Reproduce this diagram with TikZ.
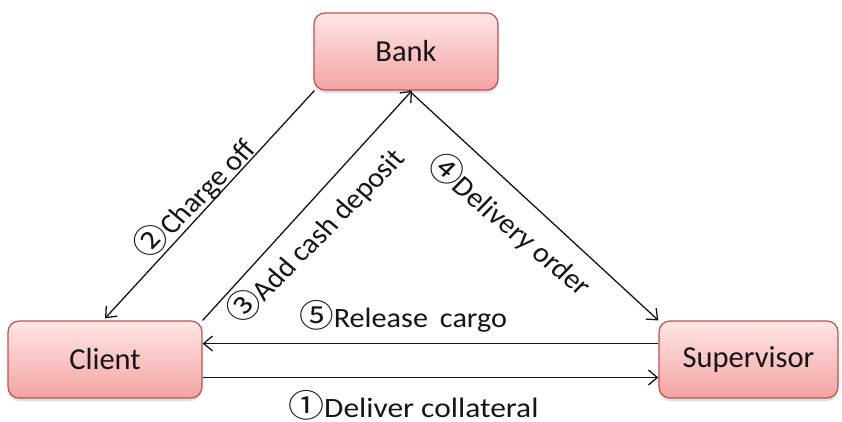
\documentclass[tikz,border=0pt]{standalone}
\usepackage{fontspec}
\setmainfont{Carlito}
\newfontfamily\cjkfont{Noto Sans CJK JP}
\usetikzlibrary{shadows,arrows.meta}
\definecolor{boxedge}{HTML}{C0504D}
\definecolor{boxtop}{HTML}{FFE6E6}
\definecolor{boxbot}{HTML}{F3A3A3}
\definecolor{ink}{HTML}{151515}
\tikzset{
  party/.style={draw=boxedge, line width=1.2pt, rounded corners=11pt,
    top color=boxtop, bottom color=boxbot, text=ink,
    font=\fontsize{30.5}{36}\selectfont,
    drop shadow={opacity=0.25, shadow xshift=0pt, shadow yshift=-3pt},
    inner sep=0pt},
  flow/.style={draw=ink, line width=1.3pt, -{Straight Barb[length=9pt,width=15pt,line width=1.3pt]}},
  lbl/.style={text=ink, font=\fontsize{28}{32}\selectfont, inner sep=0pt, xscale=1.08},
}
\newcommand{\cnum}[1]{{\cjkfont\fontsize{32}{32}\selectfont #1}}
\begin{document}
\begin{tikzpicture}[x=1pt,y=-1pt]
\useasboundingbox (0,0) rectangle (842,421);
\node[party, minimum width=184pt, minimum height=77pt] (bank) at (406,51.5) {Bank};
\node[party, minimum width=194pt, minimum height=77pt] (client) at (105,359.5) {Client};
\node[party, minimum width=179pt, minimum height=77pt] (sup) at (748.5,359.5) {Supervisor};

\coordinate (b1) at ([xshift=1pt]bank.south west);
\coordinate (b2) at ([xshift=6pt]bank.south);
\coordinate (b3) at ([xshift=3pt]bank.south);

\draw[flow] (b1) -- ([yshift=2pt]client.north);
\draw[flow] (client.north east) -- (b2);
\draw[flow] (b3) -- (sup.north west);
\draw[flow] ([yshift=16pt]sup.west) -- ([yshift=16pt]client.east);
\draw[flow] ([yshift=-18pt]client.east) -- ([yshift=-18pt]sup.west);

\node[lbl, rotate=47.6] (l2) at (194,198) {\cnum{②}Charge off};
\node[lbl, rotate=47.5] (l3) at (315,235) {\cnum{③}Add cash deposit};
\node[lbl, rotate=-42] (l4) at (511,224) {\cnum{④}Delivery order};
\node[lbl, anchor=base west] (l5) at (299,327) {\cnum{⑤}Release\ \,cargo};
\node[lbl, anchor=base west, xscale=1.04] (l1) at (288,417) {\cnum{①}Deliver collateral};
\end{tikzpicture}
\end{document}
